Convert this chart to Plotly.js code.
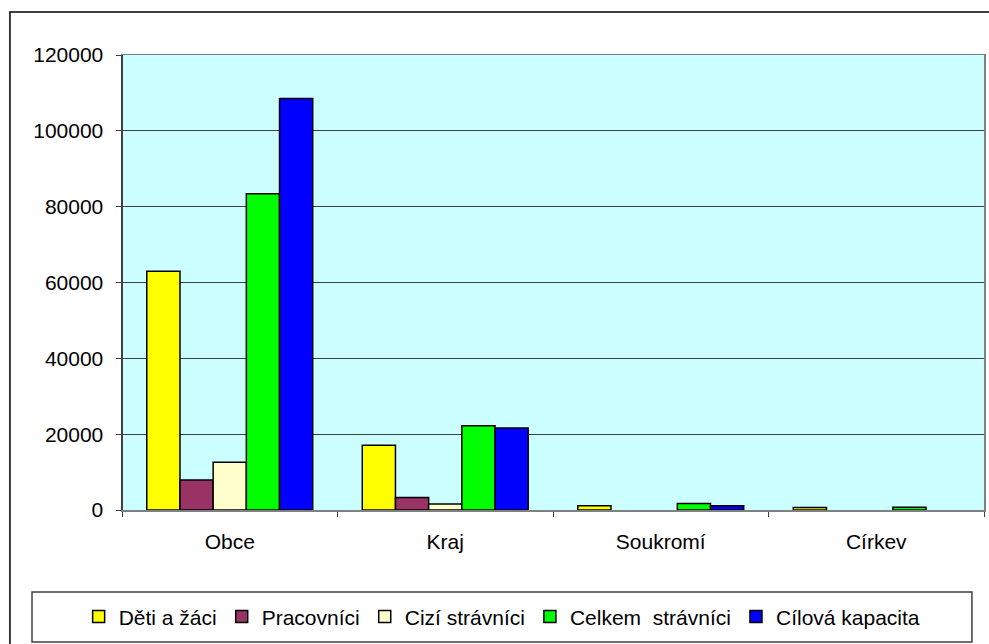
<!DOCTYPE html>
<html>
<head>
<meta charset="utf-8">
<script src="https://cdn.plot.ly/plotly-3.0.1.min.js"></script>
<style>
  html, body { margin: 0; padding: 0; background: #fff; }
  #chart { width: 989px; height: 644px; }
</style>
</head>
<body>
<div id="chart"></div>
<script>
var categories = ['Obce', 'Kraj', 'Soukromí', 'Církev'];

var seriesNames = ['Děti a žáci', 'Pracovníci', 'Cizí strávníci', 'Celkem\u00a0 strávníci', 'Cílová kapacita'];
var seriesColors = ['#ffff00', '#993366', '#ffffcc', '#00ff00', '#0000ff'];

// null = no visible bar in the picture
var detiZaci = [63000, 17100, 1100, 650];
var pracovnici = [7900, 3300, null, null];
var ciziStravnici = [12600, 1600, null, null];
var celkemStravnici = [83400, 22200, 1700, 700];
var cilovaKapacita = [108500, 21600, 1100, null];

var yTicks = [0, 20000, 40000, 60000, 80000, 100000, 120000];

function drawChart() {
  var values = [detiZaci, pracovnici, ciziStravnici, celkemStravnici, cilovaKapacita];
  var plotData = [];

  for (var i = 0; i < values.length; i++) {
    plotData.push({
      type: 'bar',
      name: seriesNames[i],
      x: categories,
      y: values[i],
      marker: { color: seriesColors[i], line: { color: '#000000', width: 1.5 } },
      hoverinfo: 'x+y+name'
    });
  }

  var layout = {
    width: 989,
    height: 644,
    margin: { l: 122, r: 5, t: 55, b: 134 },
    paper_bgcolor: '#ffffff',
    plot_bgcolor: '#ccffff',
    barmode: 'group',
    bargap: 0.23,
    bargroupgap: 0,
    font: { family: 'Arial, "Liberation Sans", sans-serif', size: 21, color: '#000000' },
    showlegend: true,
    legend: {
      orientation: 'h',
      x: 0.441, xanchor: 'center',
      y: -0.235, yanchor: 'middle',
      bgcolor: 'rgba(0,0,0,0)',
      borderwidth: 0,
      font: { size: 21 },
      traceorder: 'normal'
    },
    xaxis: {
      type: 'category',
      showgrid: false,
      showline: true,
      linecolor: '#808080',
      linewidth: 1.5,
      mirror: true,
      ticks: 'outside',
      tickson: 'boundaries',
      ticklen: 5,
      tickcolor: '#404040',
      ticklabelstandoff: 12,
      tickfont: { size: 21 }
    },
    yaxis: {
      range: [0, 120000],
      tickvals: yTicks,
      ticktext: yTicks.map(String),
      showgrid: true,
      gridcolor: '#404040',
      gridwidth: 1,
      zeroline: false,
      showline: true,
      linecolor: '#808080',
      linewidth: 1.5,
      mirror: true,
      ticks: 'outside',
      ticklen: 5,
      tickcolor: '#404040',
      ticklabelstandoff: 8,
      tickfont: { size: 21 }
    },
    shapes: [
      {
        type: 'rect', xref: 'paper', yref: 'paper',
        x0: -0.13, x1: 1.03, y0: -0.35, y1: 1.0945,
        line: { color: '#000000', width: 1.5 },
        fillcolor: 'rgba(0,0,0,0)', layer: 'below'
      },
      {
        type: 'rect', xref: 'paper', yref: 'paper',
        x0: -0.1044, x1: 0.986, y0: -0.290, y1: -0.180,
        line: { color: '#404040', width: 1.5 },
        fillcolor: '#ffffff', layer: 'below'
      },
      {
        type: 'line', xref: 'paper', yref: 'paper',
        x0: 0, x1: 0, y0: 0, y1: 1,
        line: { color: '#404040', width: 2 }
      }
    ]
  };

  Plotly.newPlot('chart', plotData, layout, { staticPlot: true });
}

document.addEventListener('DOMContentLoaded', drawChart);
</script>
</body>
</html>
